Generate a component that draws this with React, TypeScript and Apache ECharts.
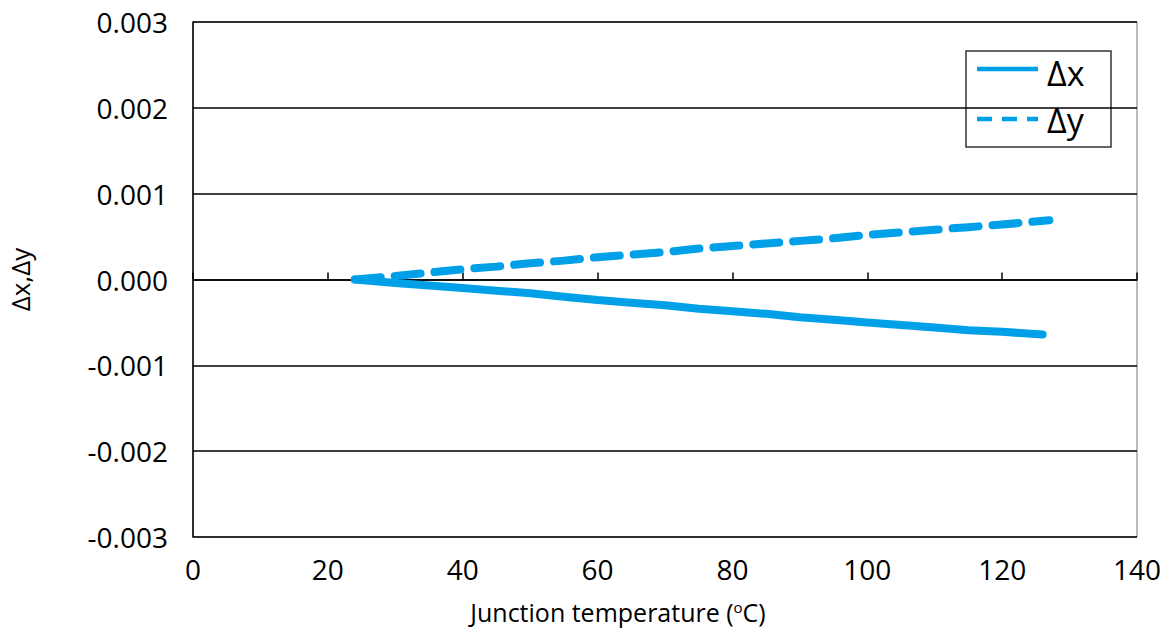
import React, { useEffect, useRef } from "react";
import * as echarts from "echarts";

const dxTemps = [24, 30, 35, 40, 45, 50, 55, 60, 65, 70, 75, 80, 85, 90, 95, 100, 105, 110, 115, 120, 126];
const dxValues = [0, -0.00004, -0.00007, -0.0001, -0.00013, -0.00016, -0.0002, -0.00024, -0.00027, -0.0003, -0.00034, -0.00037, -0.0004, -0.00044, -0.00047, -0.0005, -0.00053, -0.00056, -0.00059, -0.00061, -0.00064];
const dyTemps = [24, 30, 35, 40, 45, 50, 55, 60, 65, 70, 75, 80, 85, 90, 95, 100, 105, 110, 115, 120, 127];
const dyValues = [0, 0.00004, 0.00008, 0.00012, 0.00015, 0.00019, 0.00022, 0.00026, 0.00029, 0.00032, 0.00036, 0.00039, 0.00042, 0.00045, 0.00048, 0.00052, 0.00055, 0.00058, 0.00061, 0.00064, 0.00069];
const seriesNames = ["Δx", "Δy"];

const FONT = "'Open Sans', 'Noto Sans', sans-serif";
const BLUE = "#00a0e9";

export default function App() {
  const ref = useRef<HTMLDivElement>(null);
  useEffect(() => {
    if (!ref.current) return;
    const chart = echarts.init(ref.current, null, { renderer: "svg" });
    chart.setOption({
      animation: false,
      backgroundColor: "#fff",
      grid: {
        left: 193,
        right: 28,
        top: 22,
        bottom: 96,
        show: true,
        borderColor: "#777",
        borderWidth: 1,
        outerBoundsMode: "none",
        containLabel: false,
      },
      graphic: [
        {
          type: "group",
          z: 100,
          children: [
            {
              type: "rect",
              shape: { x: 966, y: 51, width: 145, height: 96 },
              style: { fill: "#fff", stroke: "#333", lineWidth: 1.5 },
            },
            {
              type: "line",
              shape: { x1: 977, y1: 69, x2: 1038, y2: 69 },
              style: { stroke: BLUE, lineWidth: 4.5 },
            },
            {
              type: "line",
              shape: { x1: 977, y1: 119, x2: 1038, y2: 119 },
              style: { stroke: BLUE, lineWidth: 4.5, lineDash: [15, 10] },
            },
            {
              type: "text",
              x: 1047,
              y: 73,
              style: { text: seriesNames[0], fontFamily: FONT, fontSize: 34, fill: "#000", verticalAlign: "middle" },
            },
            {
              type: "text",
              x: 1047,
              y: 120,
              style: { text: seriesNames[1], fontFamily: FONT, fontSize: 34, fill: "#000", verticalAlign: "middle" },
            },
          ],
        },
      ],
      xAxis: {
        type: "value",
        min: 0,
        max: 140,
        interval: 20,
        name: "Junction temperature ({sup|o}C)",
        nameLocation: "middle",
        nameGap: 62,
        nameTextStyle: {
          fontFamily: FONT,
          fontSize: 25,
          color: "#000",
          padding: [0, 94, 0, 0],
          rich: { sup: { fontFamily: FONT, fontSize: 15, color: "#000", verticalAlign: "top", padding: [0, 0, 10, 0] } },
        },
        axisLine: { show: true, lineStyle: { color: "#000", width: 1.5 } },
        axisTick: { show: true, inside: true, length: 7, lineStyle: { color: "#000", width: 1.5 } },
        axisLabel: { fontFamily: FONT, fontSize: 28, color: "#000", margin: 18 },
        splitLine: { show: false },
      },
      yAxis: {
        type: "value",
        min: -0.003,
        max: 0.003,
        interval: 0.001,
        name: "Δx,Δy",
        nameLocation: "middle",
        nameGap: 160,
        nameRotate: 90,
        nameTextStyle: { fontFamily: FONT, fontSize: 26, color: "#000" },
        axisLine: { show: true, lineStyle: { color: "#000", width: 1.5 } },
        axisTick: { show: false },
        axisLabel: {
          fontFamily: FONT,
          fontSize: 28,
          color: "#000",
          margin: 25,
          formatter: (v: number) => v.toFixed(3),
        },
        splitLine: { show: true, lineStyle: { color: "#000", width: 1.5 } },
      },
      series: [
        {
          name: seriesNames[0],
          type: "line",
          data: dxTemps.map((t, i) => [t, dxValues[i]]),
          symbol: "none",
          showSymbol: false,
          lineStyle: { color: BLUE, width: 8, cap: "round", join: "round" },
          itemStyle: { color: BLUE },
        },
        {
          name: seriesNames[1],
          type: "line",
          data: dyTemps.map((t, i) => [t, dyValues[i]]),
          symbol: "none",
          showSymbol: false,
          lineStyle: { color: BLUE, width: 8, type: [26, 14], cap: "round", join: "round" },
          itemStyle: { color: BLUE },
        },
      ],
    });
    return () => chart.dispose();
  }, []);
  return <div ref={ref} style={{ position: "fixed", left: 0, top: 0, width: 1165, height: 633 }} />;
}
